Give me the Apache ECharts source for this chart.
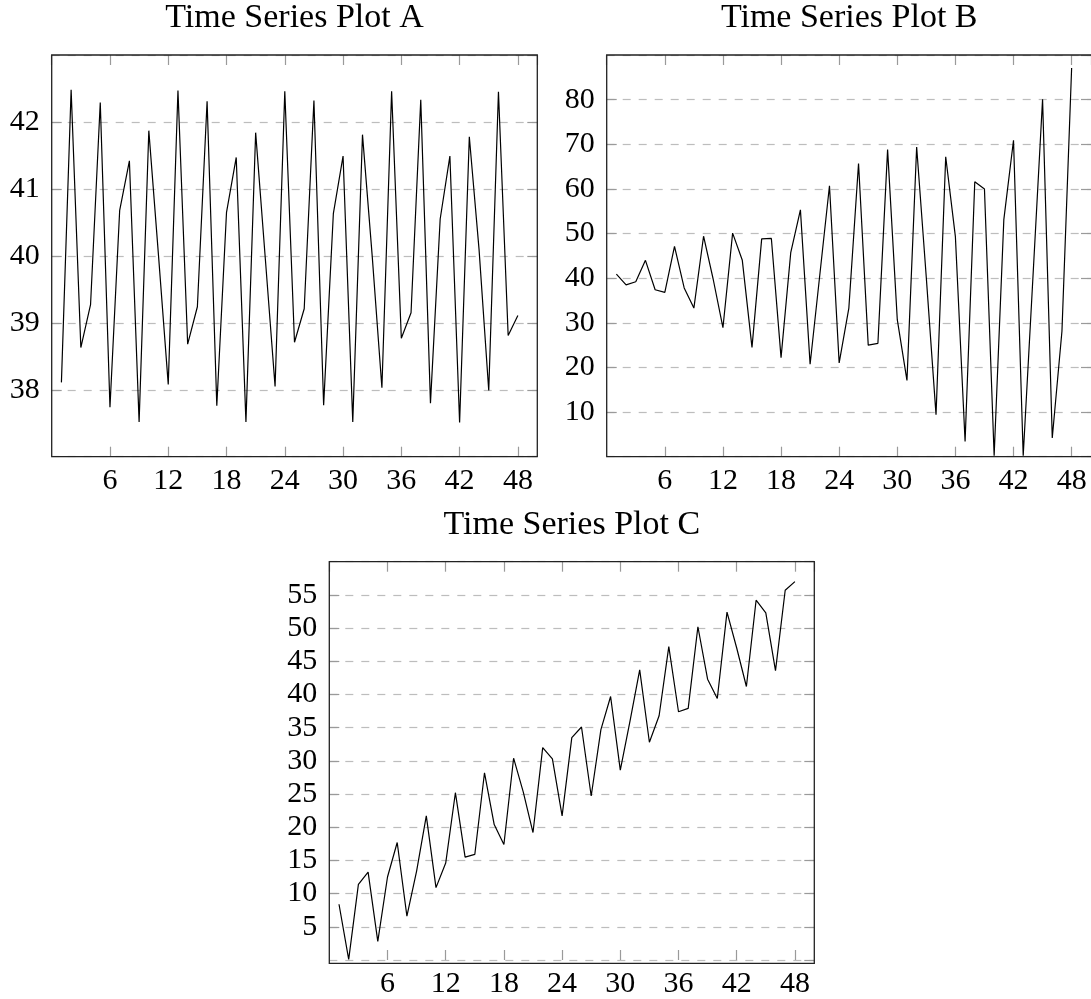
<!DOCTYPE html>
<html>
<head>
<meta charset="utf-8">
<script src="https://cdn.jsdelivr.net/npm/echarts@6/dist/echarts.min.js"></script>
<style>
  html, body { margin: 0; padding: 0; background: #fff; }
  #chart { width: 1091px; height: 999px; }
</style>
</head>
<body>
<div id="chart"></div>
<script>
// ---- data ----
const timeSteps = [1,2,3,4,5,6,7,8,9,10,11,12,13,14,15,16,17,18,19,20,21,22,23,24,25,26,27,28,29,30,31,32,33,34,35,36,37,38,39,40,41,42,43,44,45,46,47,48];
const titles = ["Time Series Plot A", "Time Series Plot B", "Time Series Plot C"];
const seriesA = [38.11,42.48,38.63,39.27,42.29,37.74,40.68,41.42,37.52,41.87,40.0,38.08,42.47,38.68,39.24,42.31,37.76,40.65,41.47,37.52,41.84,39.95,38.05,42.46,38.71,39.21,42.32,37.77,40.63,41.49,37.52,41.81,40.0,38.03,42.46,38.77,39.15,42.33,37.80,40.55,41.49,37.51,41.78,40.1,37.99,42.45,38.81,39.11];
const seriesB = [40.9,38.5,39.2,44.0,37.4,36.8,47.1,37.8,33.3,49.4,39.7,28.9,50.1,44.0,24.5,48.8,48.9,22.2,45.7,55.3,20.7,40.7,60.7,21.0,33.3,65.7,25.0,25.4,68.8,30.7,17.1,69.4,40.0,9.4,67.2,49.3,3.4,61.6,60.0,0.2,53.1,70.9,0.2,40.0,80.1,4.2,28.1,87.1];
const seriesC = [8.4,0.1,11.4,13.25,2.8,12.5,17.7,6.6,13.4,21.7,10.9,14.6,25.2,15.5,15.9,28.2,20.4,17.4,30.4,25.3,19.2,32.0,30.3,21.7,33.5,35.1,24.7,34.7,39.7,28.6,36.0,43.7,32.8,36.8,47.2,37.4,37.9,50.2,42.3,39.4,52.4,47.0,41.2,54.2,52.3,43.6,55.7,57.0];
const xRange = [0, 50];
const xTickStep = 6;
const yRanges = [[37, 43], [0, 90], [0, 60]];
const yTickSteps = [1, 10, 5];

// ---- layout ----
const FONT = '"Liberation Serif", "DejaVu Serif", serif';
const panels = [
  { left: 51.7, top: 55, width: 485.6, height: 401.7 },
  { left: 606.7, top: 55, width: 485.0, height: 401.7 },
  { left: 329.3, top: 561.7, width: 485.0, height: 401.6 }
];
const seriesData = [seriesA, seriesB, seriesC];

const grid = [], xAxis = [], yAxis = [], series = [], graphic = [];
panels.forEach((p, i) => {
  grid.push({ left: p.left, top: p.top, width: p.width, height: p.height, show: false, containLabel: false });
  const tickStyle = { show: true, inside: true, length: 10, lineStyle: { color: '#9a9a9a', width: 1.2 } };
  const line = { show: false, onZero: false };
  // bottom x axis
  xAxis.push({ type: 'value', gridIndex: i, position: 'bottom', min: xRange[0], max: xRange[1], interval: xTickStep,
    axisLine: line, axisTick: tickStyle, splitLine: { show: false },
    axisLabel: { show: true, margin: 9, fontSize: 30, fontFamily: FONT, color: '#000',
      showMinLabel: false, showMaxLabel: false,
      formatter: v => (v % xTickStep === 0 && v > xRange[0]) ? String(v) : '' } });
  // top x axis (ticks only)
  xAxis.push({ type: 'value', gridIndex: i, position: 'top', min: xRange[0], max: xRange[1], interval: xTickStep,
    axisLine: line, axisTick: tickStyle, splitLine: { show: false }, axisLabel: { show: false } });
  const yr = yRanges[i], ys = yTickSteps[i];
  yAxis.push({ type: 'value', gridIndex: i, position: 'left', min: yr[0], max: yr[1], interval: ys,
    axisLine: line, axisTick: tickStyle,
    splitLine: { show: true, lineStyle: { color: '#bdbdbd', width: 1.2, type: [8, 8] } },
    axisLabel: { show: true, margin: 12, fontSize: 30, fontFamily: FONT, color: '#000',
      showMinLabel: false, showMaxLabel: false } });
  yAxis.push({ type: 'value', gridIndex: i, position: 'right', min: yr[0], max: yr[1], interval: ys,
    axisLine: line, axisTick: tickStyle, splitLine: { show: false }, axisLabel: { show: false } });
  series.push({ type: 'line', xAxisIndex: i * 2, yAxisIndex: i * 2, symbol: 'none', clip: true,
    lineStyle: { color: '#000', width: 1.2 },
    data: timeSteps.map((t, k) => [t, seriesData[i][k]]) });
  graphic.push({ type: 'rect', z: 100, silent: true,
    shape: { x: p.left, y: p.top, width: p.width, height: p.height },
    style: { fill: 'none', stroke: '#222', lineWidth: 1.3 } });
  graphic.push({ type: 'text', x: p.left + p.width / 2, y: p.top - 37, z: 100,
    style: { text: titles[i], fontSize: 34, fontFamily: FONT, fill: '#000', align: 'center', verticalAlign: 'middle' } });
});

const chart = echarts.init(document.getElementById('chart'), null, { renderer: 'canvas' });
chart.setOption({ animation: false, backgroundColor: '#fff', grid, xAxis, yAxis, series, graphic });
</script>
</body>
</html>
